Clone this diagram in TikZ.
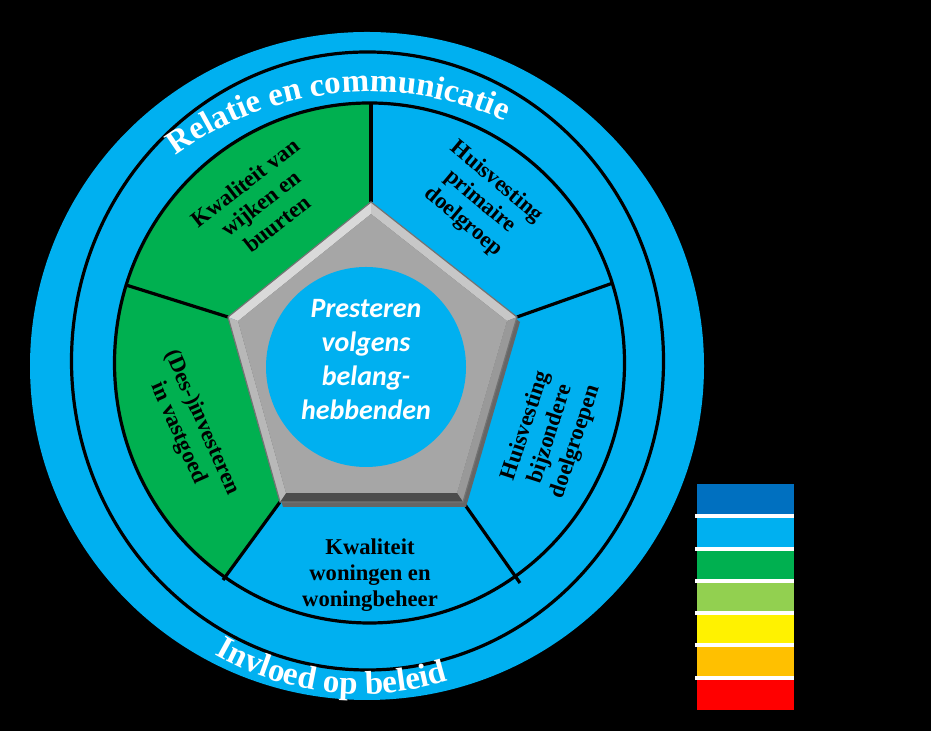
\documentclass[tikz,border=0pt]{standalone}
\usepackage{fontspec}
\setmainfont{Liberation Serif}
\newfontfamily\calibrifont{Carlito}
\usetikzlibrary{decorations.text}
\definecolor{ringblue}{RGB}{0,176,240}
\definecolor{seggreen}{RGB}{0,176,80}
\definecolor{darkblue}{RGB}{0,112,192}
\definecolor{lightgreen}{RGB}{146,208,80}
\definecolor{legendorange}{RGB}{255,192,0}
\newcommand{\arcfont}{\bfseries\fontsize{16.5}{19}\selectfont}
\tikzset{
	segtext/.style={font=\bfseries\fontsize{11.3}{13}\selectfont, align=center, text=black},
	kerntext/.style={font=\calibrifont\bfseries\itshape\fontsize{14}{17}\selectfont, align=center, text=white},
	ringline/.style={line width=1.6}
}
\begin{document}
\begin{tikzpicture}[x=0.5pt, y=0.5pt]
		% Hintergrund
		\fill[black] (0,0) rectangle (931,731);
		\useasboundingbox (0,0) rectangle (931,731);
		% Aeusserer Ring
		\fill[ringblue] (367,365) ellipse [x radius=337, y radius=334];
		\draw[ringline] (367.5,370) ellipse [x radius=296, y radius=309];
		% Punkte
		\coordinate (p1) at (371,529);
		\coordinate (p2) at (517,414);
		\coordinate (p3) at (463,229);
		\coordinate (p4) at (280,229);
		\coordinate (p5) at (228,414);
		\coordinate (q1) at (371,517);
		\coordinate (q2) at (507,410);
		\coordinate (q3) at (457,238);
		\coordinate (q4) at (286,238);
		\coordinate (q5) at (238,410);
		\coordinate (o1) at (371,628);
		\coordinate (o2) at (613,448);
		\coordinate (o3) at (520,148);
		\coordinate (o4) at (223,151);
		\coordinate (o5) at (126,446);
		% Segmente
		\fill[ringblue] (369.5,368) ellipse [x radius=255, y radius=260];
		\fill[seggreen] (p1) -- (o1) arc [start angle=90, end angle=162.5, x radius=255, y radius=260] -- (p5) -- cycle;
		\fill[seggreen] (p5) -- (o5) arc [start angle=162.5, end angle=235.5, x radius=255, y radius=260] -- (p4) -- cycle;
		\draw[ringline] (p1) -- (o1);
		\draw[ringline] (p2) -- (o2);
		\draw[ringline] (p3) -- (o3);
		\draw[ringline] (p4) -- (o4);
		\draw[ringline] (p5) -- (o5);
		\draw[ringline] (369.5,368) ellipse [x radius=255, y radius=260];
		% Fuenfeck
		\fill[black!60] ([shift={(3,-5)}]p1) -- ([shift={(3,-5)}]p2) -- ([shift={(3,-5)}]p3) -- ([shift={(3,-5)}]p4) -- ([shift={(3,-5)}]p5) -- cycle;
		\fill[black!15] (p5) -- (p1) -- (q1) -- (q5) -- cycle;
		\fill[black!22] (p1) -- (p2) -- (q2) -- (q1) -- cycle;
		\fill[black!40] (p2) -- (p3) -- (q3) -- (q2) -- cycle;
		\fill[black!70] (p3) -- (p4) -- (q4) -- (q3) -- cycle;
		\fill[black!28] (p4) -- (p5) -- (q5) -- (q4) -- cycle;
		\fill[black!35] (q1) -- (q2) -- (q3) -- (q4) -- (q5) -- cycle;
		\draw[black!55, line width=0.6] (p1) -- (p2) -- (p3) -- (p4) -- (p5) -- cycle;
		\fill[ringblue] (366,364) circle [radius=100];
		\node (kern) [kerntext] at (366,371) {Presteren\\volgens\\belang-\\hebbenden};
		% Teksten
		\node (wijken) [segtext, rotate=38] at (261,528) {Kwaliteit van\\wijken en\\buurten};
		\node (primair) [segtext, rotate=-40] at (480,529) {Huisvesting\\primaire\\doelgroep};
		\node (bijzonder) [segtext, rotate=72] at (551,297) {Huisvesting\\bijzondere\\doelgroepen};
		\node (woningen) [segtext] at (370,156) {Kwaliteit\\woningen en\\woningbeheer};
		\node (vastgoed) [segtext, rotate=-66] at (190,303) {(Des-)investeren\\in vastgoed};
		% Boegen
		\path[decorate, decoration={text along path, text color=white, text align=center, text={|\arcfont|Relatie en communicatie}}] (115.1,517.4) arc [start angle=141, end angle=51, radius=328];
		\path[decorate, decoration={text along path, text color=white, text align=center, text={|\arcfont|Invloed op beleid}}] (187.1,94.7) arc [start angle=233.5, end angle=293.5, radius=294];
		% Legende
		\foreach \farbe [count=\i] in {darkblue, ringblue, seggreen, lightgreen, yellow, legendorange, red}
			\fill[\farbe] (697, 279.3-32.3*\i) rectangle ++(97,-32.3);
		\foreach \i in {1,...,6}
			\draw[white, line width=2] (695, 247-32.3*\i) -- ++(99,0);
	\end{tikzpicture}
\end{document}
